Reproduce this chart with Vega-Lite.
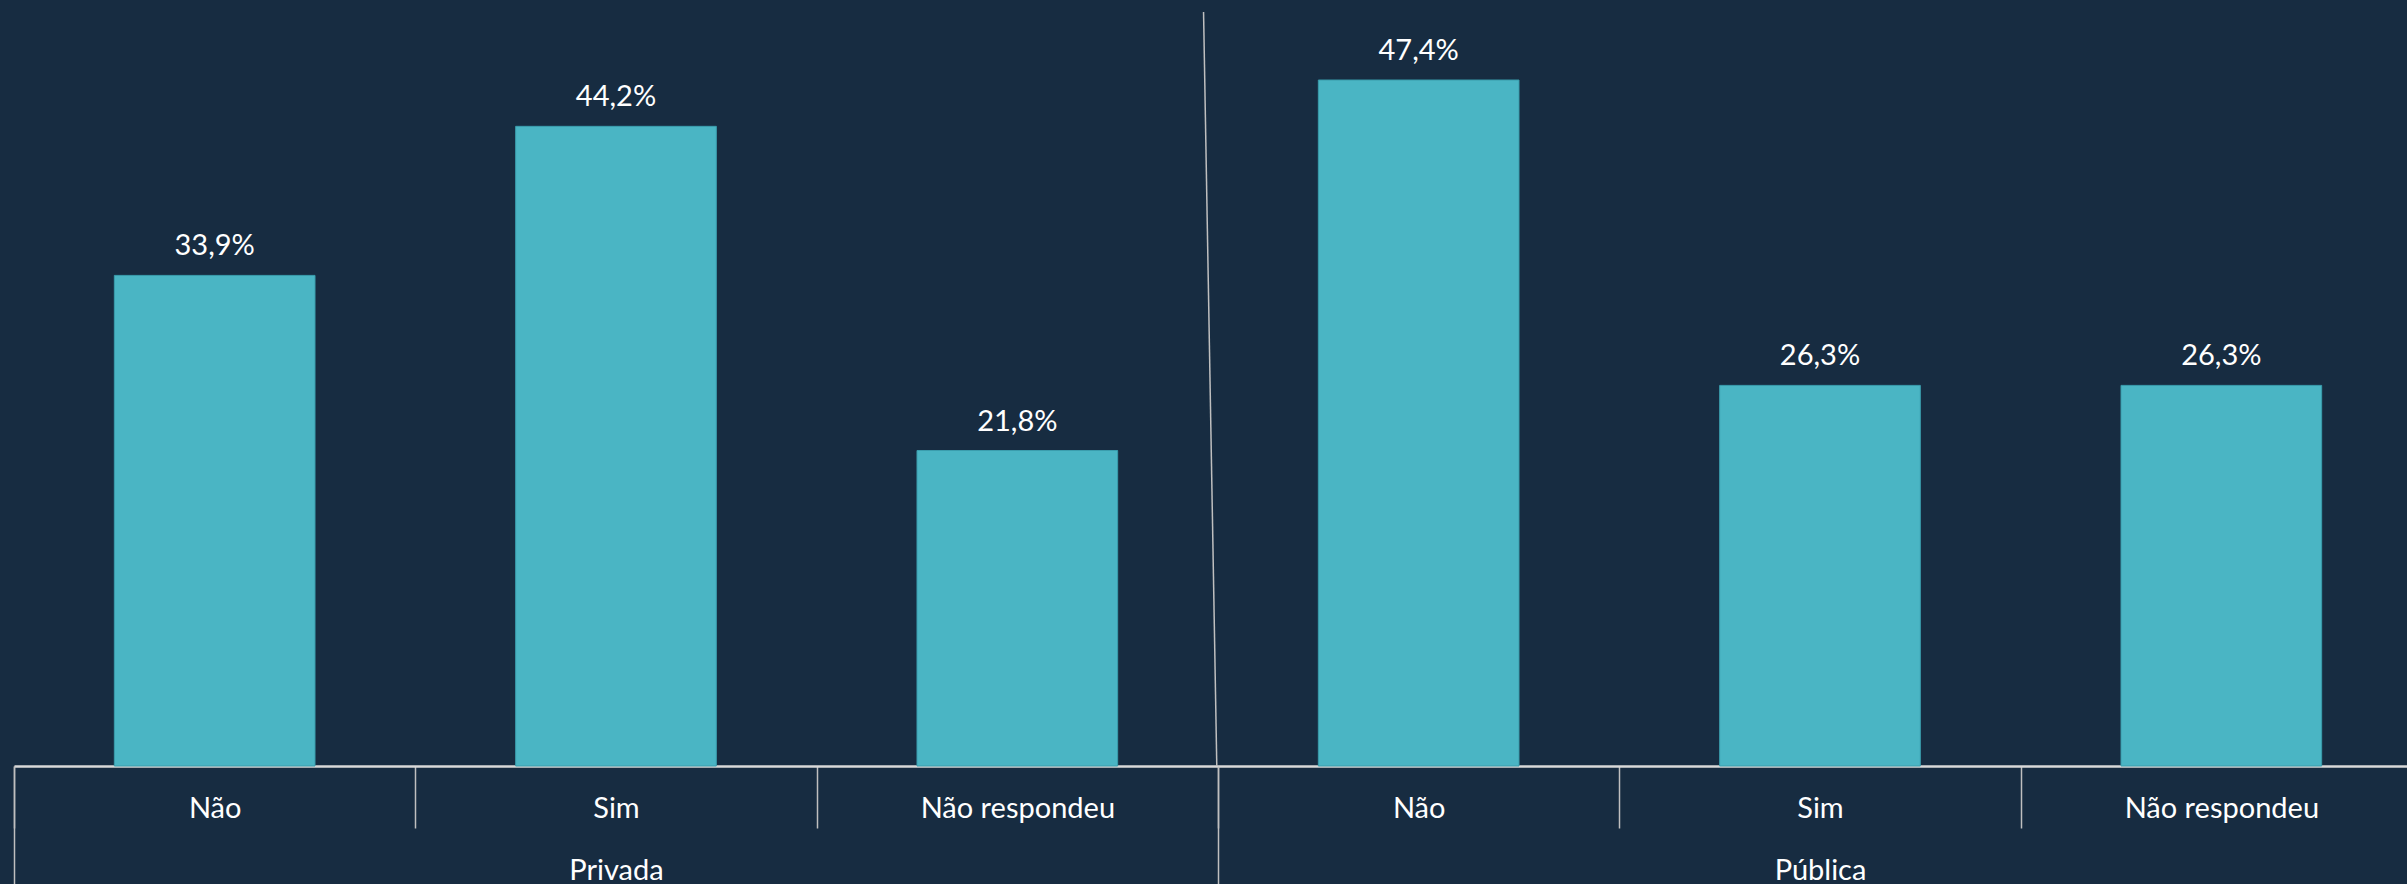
{
  "$schema": "https://vega.github.io/schema/vega-lite/v6.json",
  "width": 2393,
  "height": 754,
  "autosize": "none",
  "padding": {"left": 14, "top": 12, "right": 0, "bottom": 118},
  "background": "#172C41",
  "config": {
    "view": {"stroke": null},
    "font": "Lato",
    "locale": {"number": {"decimal": ",", "thousands": ".", "grouping": [3], "currency": ["R$ ", ""]}}
  },
  "datasets": {
    "bars": [
      {"group": "Privada", "resposta": "Não", "key": "Privada|Não", "pct": 0.339},
      {"group": "Privada", "resposta": "Sim", "key": "Privada|Sim", "pct": 0.442},
      {"group": "Privada", "resposta": "Não respondeu", "key": "Privada|Não respondeu", "pct": 0.218},
      {"group": "Pública", "resposta": "Não", "key": "Pública|Não", "pct": 0.474},
      {"group": "Pública", "resposta": "Sim", "key": "Pública|Sim", "pct": 0.263},
      {"group": "Pública", "resposta": "Não respondeu", "key": "Pública|Não respondeu", "pct": 0.263}
    ]
  },
  "layer": [
    {
      "data": {"name": "bars"},
      "layer": [
        {
          "mark": {"type": "bar", "color": "#4AB5C4", "stroke": "#3A9DAD", "strokeWidth": 1, "width": {"band": 0.5}},
          "encoding": {
            "x": {
              "field": "key", "type": "nominal",
              "scale": {"domain": ["Privada|Não", "Privada|Sim", "Privada|Não respondeu", "Pública|Não", "Pública|Sim", "Pública|Não respondeu"], "range": [0, 2408], "paddingInner": 0, "paddingOuter": 0},
              "axis": {
                "orient": "bottom", "title": null,
                "labelExpr": "split(datum.value, '|')[1]",
                "tickBand": "extent", "tickSize": 62, "tickColor": "#BFBFBF", "tickWidth": 1.5,
                "domainColor": "#D9D9D9", "domainWidth": 2.5,
                "labelColor": "#FFFFFF", "labelFontSize": 29, "labelFont": "Lato", "labelLimit": 0,
                "labelBaseline": "middle", "labelPadding": -20, "labelAngle": 0, "labelOverlap": false
              }
            },
            "y": {"field": "pct", "type": "quantitative", "scale": {"domain": [0, 0.521], "nice": false, "zero": true}, "axis": null}
          }
        },
        {
          "mark": {"type": "text", "color": "#FFFFFF", "fontSize": 29, "font": "Lato", "baseline": "alphabetic", "dy": -20},
          "encoding": {
            "x": {"field": "key", "type": "nominal"},
            "y": {"field": "pct", "type": "quantitative"},
            "text": {"field": "pct", "type": "quantitative", "format": ".1%"}
          }
        }
      ]
    },
    {
      "data": {"values": [{"linha": "separador"}]},
      "mark": {"type": "rule", "color": "#BFBFBF", "strokeWidth": 1.5},
      "encoding": {
        "x": {
          "datum": "Privada", "type": "nominal", "bandPosition": 0.988,
          "scale": {"domain": ["Privada", "Pública"], "range": [0, 2408], "paddingInner": 0, "paddingOuter": 0},
          "axis": {
            "orient": "bottom", "title": null, "domain": false,
            "tickBand": "extent", "tickSize": 118, "tickColor": "#BFBFBF", "tickWidth": 1.5,
            "labelColor": "#FFFFFF", "labelFontSize": 29, "labelFont": "Lato", "labelLimit": 0,
            "labelBaseline": "middle", "labelPadding": -14, "labelAngle": 0
          }
        },
        "x2": {"datum": "Privada", "bandPosition": 0.999},
        "y": {"datum": 0.521, "type": "quantitative"},
        "y2": {"datum": 0}
      }
    }
  ],
  "resolve": {"scale": {"x": "independent"}, "axis": {"x": "independent"}}
}
